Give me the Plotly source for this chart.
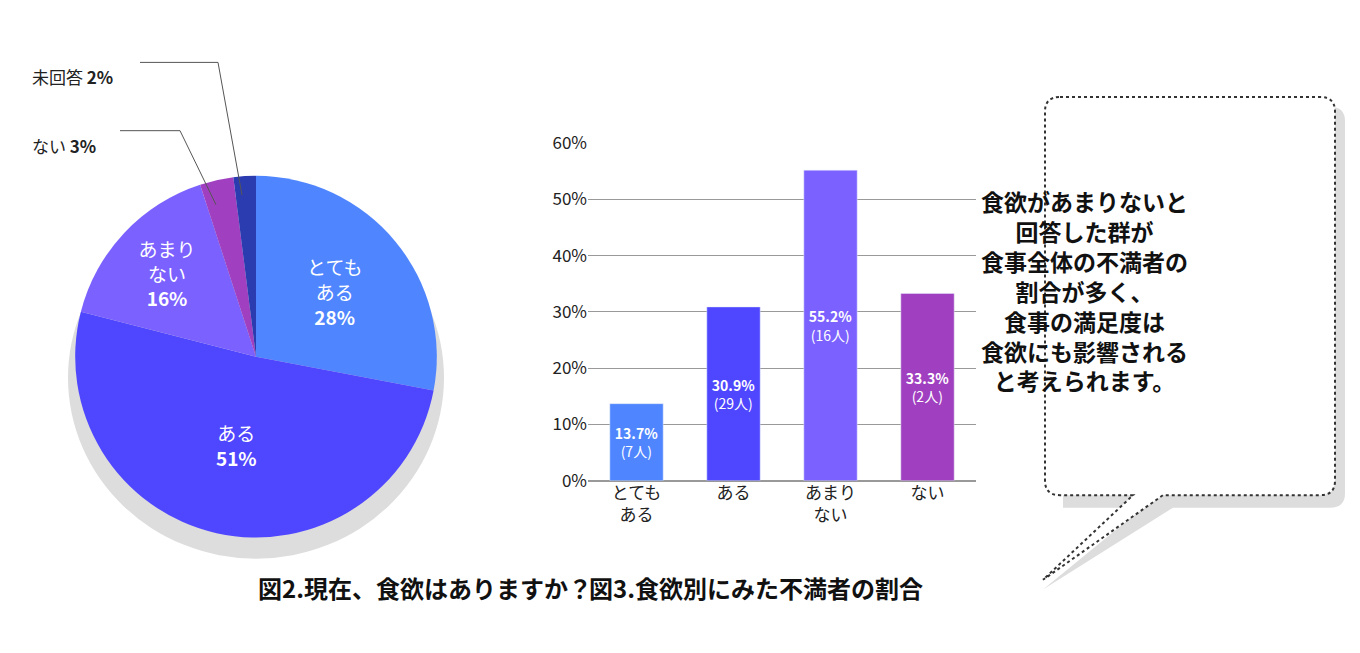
import plotly.graph_objects as go

W, H = 1360, 653
def px(x): return x / W
def py(y): return 1 - y / H

pie_labels = ["とても<br>ある", "ある", "あまり<br>ない", "ない", "未回答"]
pie_values = [28, 51, 16, 3, 2]
pie_colors = ["#4F86FF", "#4F46FF", "#7B61FF", "#A040C0", "#2B3BB0"]

bar_cats = ["とても<br>ある", "ある", "あまり<br>ない", "ない"]
bar_values = [13.7, 30.9, 55.2, 33.3]
bar_counts = [7, 29, 16, 2]
bar_colors = ["#4F86FF", "#4F46FF", "#7B61FF", "#A040C0"]

FONT = "Noto Sans CJK JP"
fig = go.Figure()

pie_text = [f"{l}<br><b>{v}%</b>" if v >= 10 else "" for l, v in zip(pie_labels, pie_values)]
fig.add_trace(go.Pie(values=pie_values, labels=pie_labels, text=pie_text, textinfo="text",
                     textposition="inside", insidetextorientation="horizontal",
                     marker=dict(colors=pie_colors), sort=False, direction="clockwise",
                     rotation=0, showlegend=False, hoverinfo="skip",
                     textfont=dict(color="white", size=19, family=FONT),
                     domain=dict(x=[px(60), px(436)], y=[py(536), py(160)])))

fig.add_trace(go.Bar(x=bar_cats, y=bar_values, marker_color=bar_colors, width=0.55,
                     text=[f"<b>{v}%</b><br>({c}人)" for v, c in zip(bar_values, bar_counts)],
                     textposition="inside", insidetextanchor="middle", textangle=0,
                     constraintext="none",
                     textfont=dict(color="white", size=14, family=FONT),
                     showlegend=False, hoverinfo="skip", xaxis="x", yaxis="y"))

shapes = [
    dict(type="circle", xref="paper", yref="paper", x0=px(60), x1=px(436), y0=py(558), y1=py(182),
         fillcolor="#DDDDDD", line_width=0, layer="below"),
    dict(type="path", xref="paper", yref="paper",
         path=f"M {px(112)},{py(113)} L {px(172)},{py(113)} L {px(208)},{py(190)}",
         line=dict(color="#555", width=1)),
    dict(type="path", xref="paper", yref="paper",
         path=f"M {px(132)},{py(42)} L {px(210)},{py(42)} L {px(234)},{py(180)}",
         line=dict(color="#555", width=1)),
    dict(type="path", xref="paper", yref="paper",
         path=(f"M {px(1055)},{py(88)} L {px(1322)},{py(88)} Q {px(1337)},{py(88)} {px(1337)},{py(103)} "
               f"L {px(1337)},{py(490)} Q {px(1337)},{py(505)} {px(1322)},{py(505)} L {px(1165)},{py(505)} "
               f"L {px(1035)},{py(590)} L {px(1135)},{py(505)} L {px(1055)},{py(505)} Z"),
         fillcolor="#DDDDDD", line_width=0, layer="below"),
    dict(type="path", xref="paper", yref="paper",
         path=(f"M {px(1052)},{py(78)} L {px(1312)},{py(78)} Q {px(1327)},{py(78)} {px(1327)},{py(93)} "
               f"L {px(1327)},{py(477)} Q {px(1327)},{py(492)} {px(1312)},{py(492)} L {px(1155)},{py(492)} "
               f"L {px(1035)},{py(580)} L {px(1125)},{py(492)} L {px(1052)},{py(492)} "
               f"Q {px(1037)},{py(492)} {px(1037)},{py(477)} L {px(1037)},{py(93)} Q {px(1037)},{py(78)} {px(1052)},{py(78)} Z"),
         fillcolor="white", line=dict(color="#333", width=2, dash="dot")),
]

bubble = "食欲があまりないと<br>回答した群が<br>食事全体の不満者の<br>割合が多く、<br>食事の満足度は<br>食欲にも影響される<br>と考えられます。"
A = dict(xref="paper", yref="paper", showarrow=False)
annotations = [
    dict(text="ない <b>3%</b>", x=px(22), y=py(113), xanchor="left",
         font=dict(size=17, color="#222", family=FONT), **A),
    dict(text="未回答 <b>2%</b>", x=px(22), y=py(42), xanchor="left",
         font=dict(size=17, color="#222", family=FONT), **A),
    dict(text="<b>図2.現在、食欲はありますか？</b>", x=px(248), y=py(608),
         font=dict(size=24, color="#111", family=FONT), **A),
    dict(text="<b>図3.食欲別にみた不満者の割合</b>", x=px(748), y=py(608),
         font=dict(size=24, color="#111", family=FONT), **A),
    dict(text=f"<b>{bubble}</b>", x=px(1182), y=py(279), align="center",
         font=dict(size=23, color="#111", family=FONT), **A),
]

fig.update_layout(
    width=W, height=H, margin=dict(l=0, r=0, t=0, b=0),
    paper_bgcolor="white", plot_bgcolor="white", font=dict(family=FONT),
    shapes=shapes, annotations=annotations,
    xaxis=dict(domain=[px(580), px(968)], showgrid=False, showline=False, ticks="",
               tickfont=dict(size=17, color="#222")),
    yaxis=dict(domain=[py(477), py(126)], range=[0, 60], dtick=10, ticksuffix="%",
               gridcolor="#999", gridwidth=1, zeroline=True, zerolinecolor="#999",
               tickfont=dict(size=17, color="#222")),
    bargap=0.45,
)
fig.write_html("out.html")
